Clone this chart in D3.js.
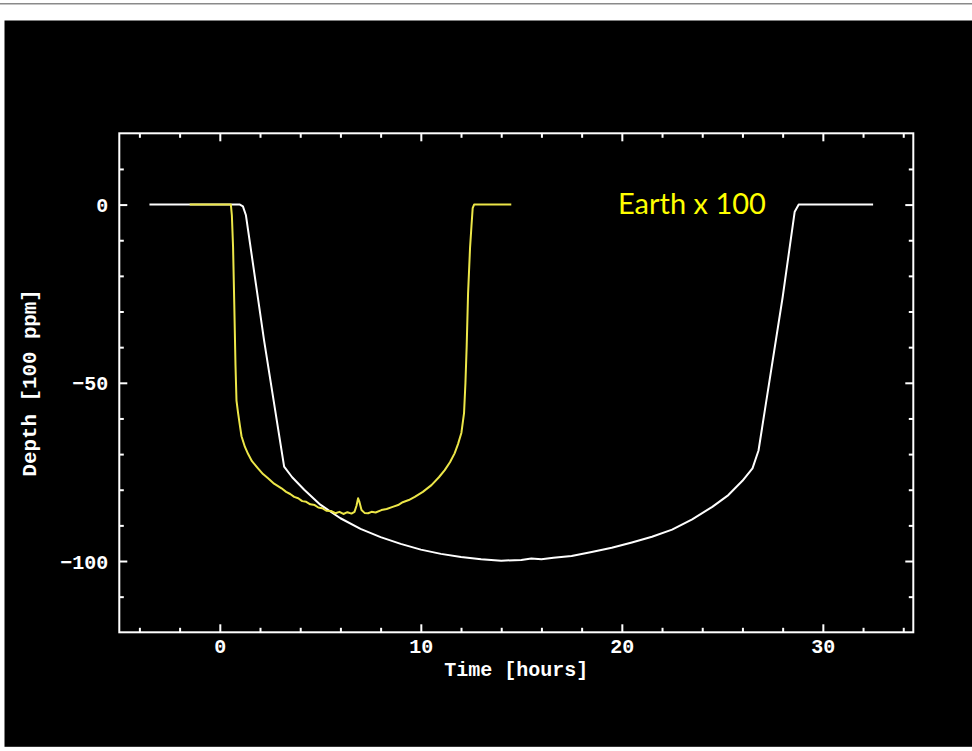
<!DOCTYPE html>
<html>
<head>
<meta charset="utf-8">
<script src="https://cdn.jsdelivr.net/npm/d3@7"></script>
<style>
  html, body { margin: 0; padding: 0; background: #ffffff; }
  svg { display: block; }
</style>
</head>
<body>
<svg id="chart" width="972" height="751"></svg>
<script>
// ---- data (time in hours, depth in units of 100 ppm) ----
const whiteTime  = [-3.5, 1.0, 1.15, 1.3, 2.2, 3.2, 3.6, 4.2, 5.0, 6.0, 7.0, 8.0, 9.0, 10.0, 11.0, 12.0, 13.0, 14.0, 15.0, 15.5, 16.0, 16.6, 17.5, 18.5, 19.5, 20.5, 21.5, 22.5, 23.5, 24.5, 25.3, 26.0, 26.5, 26.8, 28.0, 28.6, 28.8, 32.5];
const whiteDepth = [0, 0, -0.5, -3, -38, -73.5, -76.5, -80, -84.2, -88, -91, -93.3, -95.2, -96.8, -98, -98.9, -99.5, -99.9, -99.7, -99.3, -99.5, -99.1, -98.6, -97.5, -96.3, -94.8, -93.2, -91.2, -88.3, -84.8, -81.5, -77.5, -74, -69, -26, -2, 0, 0];

const earthTime  = [-1.5, 0.55, 0.6, 0.66, 0.72, 0.78, 0.83, 0.91, 1.0, 1.08, 1.25, 1.41, 1.6, 1.9, 2.15, 2.4, 2.7, 3.07, 3.3, 3.5, 3.7, 3.9, 4.1, 4.3, 4.5, 4.72, 4.9, 5.1, 5.3, 5.55, 5.75, 5.95, 6.15, 6.35, 6.55, 6.7, 6.8, 6.88, 6.95, 7.05, 7.2, 7.38, 7.55, 7.75, 8.04, 8.3, 8.6, 8.87, 9.1, 9.4, 9.7, 10.1, 10.53, 10.9, 11.19, 11.45, 11.68, 11.85, 12.02, 12.15, 12.22, 12.28, 12.35, 12.45, 12.52, 12.58, 12.65, 14.5];
const earthDepth = [0, 0, -3, -12, -28, -45, -55, -58.5, -62, -65, -68, -70, -72, -74, -75.6, -76.8, -78.3, -79.6, -80.6, -81.2, -82.0, -82.4, -83.2, -83.4, -84.1, -84.3, -85.0, -85.2, -85.9, -86.0, -86.6, -86.2, -86.8, -86.3, -86.7, -86.2, -84.5, -82.4, -83.5, -85.7, -86.5, -86.6, -86.2, -86.4, -85.7, -85.4, -84.8, -84.3, -83.5, -82.9, -82.0, -80.6, -78.7, -76.5, -74.5, -72.3, -69.8, -67.2, -64, -58.5, -50, -40, -25, -12, -6, -1, 0, 0];

const xMajorTicks = [0, 10, 20, 30];
const xMinorTicks = [-4, -2, 2, 4, 6, 8, 12, 14, 16, 18, 22, 24, 26, 28, 32, 34];
const yMajorTicks = [0, -50, -100];
const yMinorTicks = [10, -10, -20, -30, -40, -60, -70, -80, -90, -110];
const xDomain = [-5, 34.5];
const yDomain = [-120, 20];
const xTitle = "Time [hours]";
const yTitle = "Depth [100 ppm]";
const legendText = "Earth x 100";

// ---- layout ----
const svg = d3.select("#chart");
const L = 119.3, R = 913.3, T = 133.3, B = 632.3;
const AX = "#ffffff";
const FONT = "'Liberation Mono', 'DejaVu Sans Mono', monospace";
const FS = 20;

// page decoration
svg.append("line").attr("x1", 0).attr("x2", 972).attr("y1", 3.8).attr("y2", 3.8)
  .attr("stroke", "#8a8a8a").attr("stroke-width", 1.6);
svg.append("rect").attr("x", 4.5).attr("y", 20.5).attr("width", 968).attr("height", 726.3).attr("fill", "#000000");

const x = d3.scaleLinear().domain(xDomain).range([L, R]);
const y = d3.scaleLinear().domain(yDomain).range([B, T]);

function styleAxis(g) {
  g.select(".domain").remove();
  g.selectAll(".tick line").attr("stroke", AX).attr("stroke-width", 2);
}

// minor ticks (no labels), all four sides, pointing inward
const minorLen = 4.5, majorLen = 8;
svg.append("g").attr("transform", `translate(0,${B})`)
  .call(d3.axisBottom(x).tickValues(xMinorTicks).tickSize(-minorLen).tickFormat(""))
  .call(styleAxis);
svg.append("g").attr("transform", `translate(0,${T})`)
  .call(d3.axisTop(x).tickValues(xMinorTicks).tickSize(-minorLen).tickFormat(""))
  .call(styleAxis);
svg.append("g").attr("transform", `translate(${L},0)`)
  .call(d3.axisLeft(y).tickValues(yMinorTicks).tickSize(-minorLen).tickFormat(""))
  .call(styleAxis);
svg.append("g").attr("transform", `translate(${R},0)`)
  .call(d3.axisRight(y).tickValues(yMinorTicks).tickSize(-minorLen).tickFormat(""))
  .call(styleAxis);

// major ticks
const xb = svg.append("g").attr("transform", `translate(0,${B})`)
  .call(d3.axisBottom(x).tickValues(xMajorTicks).tickSize(-majorLen).tickFormat(d3.format("d")))
  .call(styleAxis);
xb.selectAll(".tick text").attr("fill", AX).attr("font-family", FONT).attr("font-weight", "bold")
  .attr("font-size", FS).attr("y", 21).attr("dy", 0).attr("text-anchor", "middle");

svg.append("g").attr("transform", `translate(0,${T})`)
  .call(d3.axisTop(x).tickValues(xMajorTicks).tickSize(-majorLen).tickFormat(""))
  .call(styleAxis);

const yl = svg.append("g").attr("transform", `translate(${L},0)`)
  .call(d3.axisLeft(y).tickValues(yMajorTicks).tickSize(-majorLen).tickFormat(d => d < 0 ? "\u2212" + Math.abs(d) : d))
  .call(styleAxis);
yl.selectAll(".tick text").attr("fill", AX).attr("font-family", FONT).attr("font-weight", "bold")
  .attr("font-size", FS).attr("x", -11).attr("dy", "0.35em").attr("text-anchor", "end");

svg.append("g").attr("transform", `translate(${R},0)`)
  .call(d3.axisRight(y).tickValues(yMajorTicks).tickSize(-majorLen).tickFormat(""))
  .call(styleAxis);

// frame
svg.append("rect").attr("x", L).attr("y", T).attr("width", R - L).attr("height", B - T)
  .attr("fill", "none").attr("stroke", AX).attr("stroke-width", 2);

// axis titles
svg.append("text").attr("x", (L + R) / 2).attr("y", 676).attr("text-anchor", "middle")
  .attr("fill", AX).attr("font-family", FONT).attr("font-weight", "bold").attr("font-size", FS)
  .text(xTitle);
svg.append("text").attr("transform", `translate(36,${(T + B) / 2}) rotate(-90)`)
  .attr("text-anchor", "middle")
  .attr("fill", AX).attr("font-family", FONT).attr("font-weight", "bold").attr("font-size", 20.8)
  .text(yTitle);

// curves
const line = d3.line().x(d => x(d[0])).y(d => y(d[1]));
const whiteData = whiteTime.map((t, i) => [t, whiteDepth[i]]);
const earthData = earthTime.map((t, i) => [t, earthDepth[i]]);

svg.append("path").datum(whiteData).attr("d", line)
  .attr("fill", "none").attr("stroke", "#ffffff").attr("stroke-width", 2).attr("stroke-linejoin", "round");
svg.append("path").datum(earthData).attr("d", line)
  .attr("fill", "none").attr("stroke", "#ece648").attr("stroke-width", 2).attr("stroke-linejoin", "round");

// legend label
svg.append("text").attr("x", 618).attr("y", 214)
  .attr("fill", "#ffff00").attr("font-family", "Lato, 'Open Sans', sans-serif").attr("font-size", 29)
  .text(legendText);
</script>
</body>
</html>
